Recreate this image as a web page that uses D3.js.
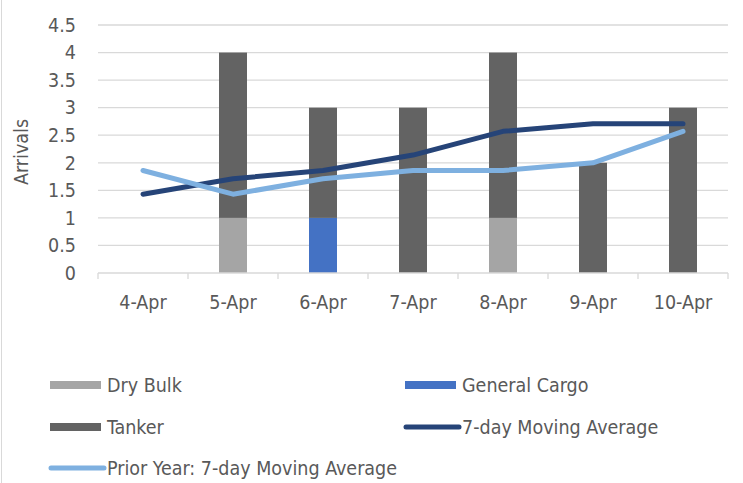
<!DOCTYPE html>
<html>
<head>
<meta charset="utf-8">
<script src="https://cdn.jsdelivr.net/npm/d3@7"></script>
<style>
  body { margin: 0; background: #fff; }
  text { font-family: "DejaVu Sans Condensed", "Liberation Sans Narrow", "Open Sans", sans-serif; fill: #595959; }
</style>
</head>
<body>
<div id="viz"></div>
<script>
// data
var days = ['4-Apr', '5-Apr', '6-Apr', '7-Apr', '8-Apr', '9-Apr', '10-Apr'];
var dryBulk = [0, 1, 0, 0, 1, 0, 0];
var generalCargo = [0, 0, 1, 0, 0, 0, 0];
var tanker = [0, 3, 2, 3, 3, 2, 3];
var movingAvg = [1.43, 1.71, 1.86, 2.14, 2.57, 2.71, 2.71];
var priorYearAvg = [1.86, 1.43, 1.71, 1.86, 1.86, 2.0, 2.57];
var yTicks = [0, 0.5, 1, 1.5, 2, 2.5, 3, 3.5, 4, 4.5];

var width = 743;
var height = 483;
var fontSize = '19.5px';

var margin = { top: 25, left: 98, right: 15 };
var innerWidth = 630;
var innerHeight = 248;

var svg = d3.select('#viz')
    .append('svg')
    .attr('width', width)
    .attr('height', height);

svg.append('line')
    .attr('x1', 1.5).attr('x2', 1.5)
    .attr('y1', 0).attr('y2', height)
    .attr('stroke', '#d9d9d9');

var g = svg.append('g')
    .attr('transform', 'translate(' + margin.left + ',' + margin.top + ')');

var xScale = d3.scaleBand()
    .domain(days)
    .range([0, innerWidth]);

var yScale = d3.scaleLinear()
    .domain([0, 4.5])
    .range([innerHeight, 0]);

// gridlines
g.selectAll('.grid')
    .data(yTicks.slice(1))
    .enter()
    .append('line')
    .attr('x1', 0)
    .attr('x2', innerWidth)
    .attr('y1', d => yScale(d))
    .attr('y2', d => yScale(d))
    .attr('stroke', '#d9d9d9')
    .attr('stroke-width', 1.3);

// y axis labels
var yAxis = d3.axisLeft(yScale).tickValues(yTicks).tickSize(0).tickPadding(22)
    .tickFormat(d3.format('~g'));
var yG = g.append('g').call(yAxis);
yG.select('.domain').remove();
yG.selectAll('text').style('font-size', fontSize).attr('fill', '#595959');

// stacked bars
var series = [
    { name: 'Dry Bulk', values: dryBulk, color: '#a5a5a5' },
    { name: 'General Cargo', values: generalCargo, color: '#4472c4' },
    { name: 'Tanker', values: tanker, color: '#636363' }
];

var stackData = days.map((d, i) => ({ day: d, dry: dryBulk[i], gen: generalCargo[i], tank: tanker[i] }));
var stack = d3.stack().keys(['dry', 'gen', 'tank'])(stackData);
var barW = 28;

g.selectAll('.layer')
    .data(stack)
    .enter()
    .append('g')
    .attr('fill', (d, i) => series[i].color)
    .selectAll('rect')
    .data(d => d)
    .enter()
    .append('rect')
    .attr('x', d => xScale(d.data.day) + xScale.bandwidth() / 2 - barW / 2)
    .attr('y', d => yScale(d[1]))
    .attr('width', barW)
    .attr('height', d => yScale(d[0]) - yScale(d[1]));

// x axis
var xAxis = d3.axisBottom(xScale).tickSize(0).tickPadding(22);
var xG = g.append('g')
    .attr('transform', 'translate(0,' + innerHeight + ')')
    .call(xAxis);
xG.select('.domain').remove();
xG.selectAll('text').style('font-size', fontSize).attr('fill', '#595959');

g.append('line')
    .attr('x1', 0).attr('x2', innerWidth)
    .attr('y1', innerHeight).attr('y2', innerHeight)
    .attr('stroke', '#d9d9d9').attr('stroke-width', 1.3);

var bounds = days.map(d => xScale(d)).concat([innerWidth]);
g.selectAll('.xtick')
    .data(bounds)
    .enter()
    .append('line')
    .attr('x1', d => d).attr('x2', d => d)
    .attr('y1', innerHeight).attr('y2', innerHeight + 6)
    .attr('stroke', '#d9d9d9').attr('stroke-width', 1.3);

// lines
var line = d3.line()
    .x((d, i) => xScale(days[i]) + xScale.bandwidth() / 2)
    .y(d => yScale(d));

g.append('path')
    .datum(movingAvg)
    .attr('d', line)
    .attr('fill', 'none')
    .attr('stroke', '#264478')
    .attr('stroke-width', 5)
    .attr('stroke-linecap', 'round')
    .attr('stroke-linejoin', 'round');

g.append('path')
    .datum(priorYearAvg)
    .attr('d', line)
    .attr('fill', 'none')
    .attr('stroke', '#7eb0e0')
    .attr('stroke-width', 5)
    .attr('stroke-linecap', 'round')
    .attr('stroke-linejoin', 'round');

// y axis title
svg.append('text')
    .attr('transform', 'translate(28,152) rotate(-90)')
    .attr('text-anchor', 'middle')
    .style('font-size', fontSize)
    .text('Arrivals');

// legend
var legend = [
    { name: 'Dry Bulk', color: '#a5a5a5', type: 'rect', x: 50, y: 385 },
    { name: 'General Cargo', color: '#4472c4', type: 'rect', x: 405, y: 385 },
    { name: 'Tanker', color: '#636363', type: 'rect', x: 50, y: 427 },
    { name: '7-day Moving Average', color: '#264478', type: 'line', x: 405, y: 427 },
    { name: 'Prior Year: 7-day Moving Average', color: '#7eb0e0', type: 'line', x: 50, y: 468 }
];

var lg = svg.selectAll('.legend')
    .data(legend)
    .enter()
    .append('g')
    .attr('transform', d => 'translate(' + d.x + ',' + d.y + ')');

lg.filter(d => d.type === 'rect')
    .append('rect')
    .attr('x', 0).attr('y', -4)
    .attr('width', 51).attr('height', 8)
    .attr('fill', d => d.color);

lg.filter(d => d.type === 'line')
    .append('line')
    .attr('x1', 1).attr('x2', 54)
    .attr('y1', 0).attr('y2', 0)
    .attr('stroke', d => d.color)
    .attr('stroke-width', 5)
    .attr('stroke-linecap', 'round');

lg.append('text')
    .attr('x', 57)
    .attr('y', 0)
    .attr('dy', '0.35em')
    .style('font-size', fontSize)
    .text(d => d.name);
</script>
</body>
</html>
